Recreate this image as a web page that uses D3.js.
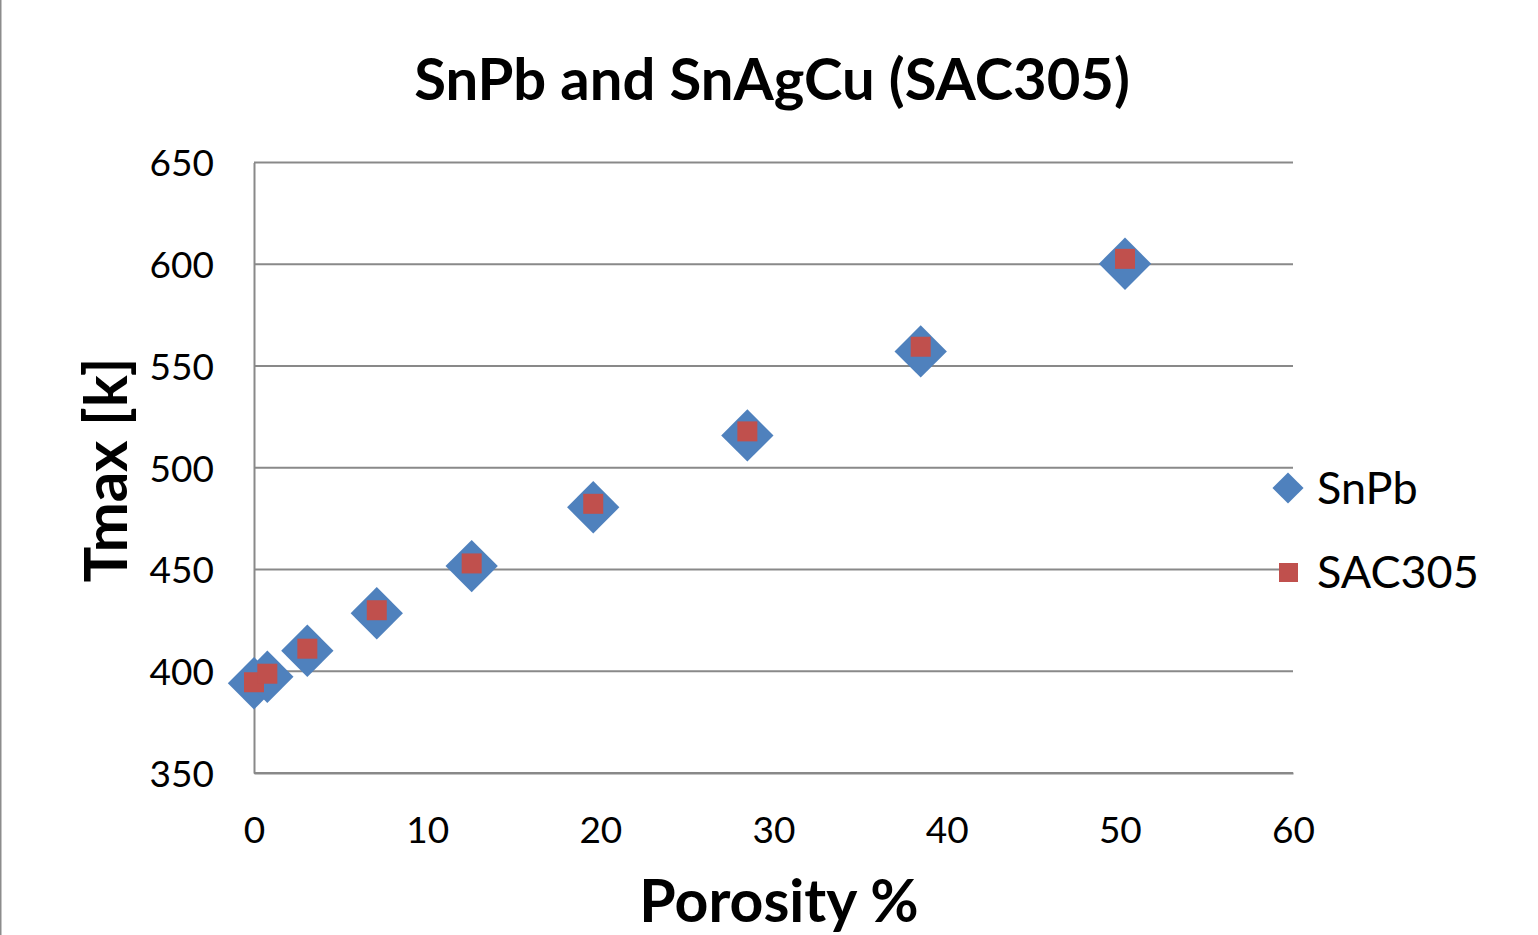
<!DOCTYPE html>
<html>
<head>
<meta charset="utf-8">
<script src="https://cdn.jsdelivr.net/npm/d3@7"></script>
<style>
  html, body { margin: 0; padding: 0; background: #fff; }
  svg { display: block; }
  text { font-family: Lato, "Open Sans", sans-serif; fill: #000; }
</style>
</head>
<body>
<svg id="chart" width="1538" height="935"></svg>
<script>
// Porosity (%) for each sample
const porosity = [0, 0.77, 3.08, 7.09, 12.57, 19.59, 28.49, 38.5, 50.3];
// Maximum temperature [K] for each solder
const snpbTmax = [394.1, 397.3, 410.1, 428.5, 451.7, 480.6, 515.9, 557.2, 600.3];
const sac305Tmax = [394.6, 398.8, 411.1, 430.0, 453.0, 482.3, 517.9, 559.5, 602.7];
const xTicks = [0, 10, 20, 30, 40, 50, 60];
const yTicks = [350, 400, 450, 500, 550, 600, 650];
const seriesNames = ["SnPb", "SAC305"];

const svg = d3.select("#chart");
const W = 1538, H = 935;
const plot = { left: 254, right: 1293, top: 162.6, bottom: 773 };

const x = d3.scaleLinear().domain([0, 60]).range([plot.left, plot.right]);
const y = d3.scaleLinear().domain([350, 650]).range([plot.bottom, plot.top]);

const gridColor = "#898989";

// frame edge on the left of the chart area
svg.append("line")
  .attr("x1", 0.75).attr("x2", 0.75).attr("y1", 0).attr("y2", H)
  .attr("stroke", "#8c8c8c").attr("stroke-width", 1.5);

// horizontal gridlines
svg.append("g")
  .selectAll("line")
  .data(yTicks)
  .join("line")
  .attr("x1", plot.left).attr("x2", plot.right)
  .attr("y1", d => y(d)).attr("y2", d => y(d))
  .attr("stroke", gridColor).attr("stroke-width", 2);

// y axis
const yAxis = svg.append("g")
  .attr("transform", `translate(${plot.left},0)`)
  .call(d3.axisLeft(y).tickValues(yTicks).tickSize(0).tickPadding(40));
yAxis.select(".domain").attr("stroke", gridColor).attr("stroke-width", 2);
yAxis.selectAll("text")
  .style("font-size", "37px")
  .style("font-family", "Lato, 'Open Sans', sans-serif")
  .attr("fill", "#000")
  .attr("dy", "0.36em");

// x axis
const xAxis = svg.append("g")
  .attr("transform", `translate(0,${plot.bottom})`)
  .call(d3.axisBottom(x).tickValues(xTicks).tickSize(0).tickPadding(40));
xAxis.select(".domain").attr("stroke", gridColor).attr("stroke-width", 2);
xAxis.selectAll("text")
  .style("font-size", "37px")
  .style("font-family", "Lato, 'Open Sans', sans-serif")
  .attr("fill", "#000")
  .attr("dy", "0.34em")
  .attr("y", 57);

// data series
const snpbColor = "#4F81BD", sacColor = "#C0504D";
const diamond = d3.symbol().type(d3.symbolSquare).size(37 * 37);

svg.append("g")
  .selectAll("path")
  .data(porosity.map((p, i) => [p, snpbTmax[i]]))
  .join("path")
  .attr("d", diamond)
  .attr("transform", d => `translate(${x(d[0])},${y(d[1])}) rotate(45)`)
  .attr("fill", snpbColor);

const sq = 20;
svg.append("g")
  .selectAll("rect")
  .data(porosity.map((p, i) => [p, sac305Tmax[i]]))
  .join("rect")
  .attr("x", d => x(d[0]) - sq / 2)
  .attr("y", d => y(d[1]) - sq / 2)
  .attr("width", sq).attr("height", sq)
  .attr("fill", sacColor);

// title
svg.append("text")
  .attr("x", 772).attr("y", 100)
  .attr("text-anchor", "middle")
  .style("font-size", "58px").style("font-weight", "bold")
  .text("SnPb and SnAgCu (SAC305)");

// axis titles
svg.append("text")
  .attr("transform", "translate(127,470) rotate(-90)")
  .attr("text-anchor", "middle")
  .style("font-size", "60px").style("font-weight", "bold")
  .text("Tmax [k]");

svg.append("text")
  .attr("x", 779).attr("y", 922)
  .attr("text-anchor", "middle")
  .style("font-size", "59px").style("font-weight", "bold")
  .text("Porosity %");

// legend
const legend = svg.append("g");
legend.append("path")
  .attr("d", d3.symbol().type(d3.symbolSquare).size(22 * 22))
  .attr("transform", "translate(1288,488) rotate(45)")
  .attr("fill", snpbColor);
legend.append("rect")
  .attr("x", 1279).attr("y", 563).attr("width", 19).attr("height", 19)
  .attr("fill", sacColor);
legend.selectAll("text.leg")
  .data(seriesNames)
  .join("text")
  .attr("class", "leg")
  .attr("x", 1317)
  .attr("y", (d, i) => 488 + i * 84)
  .attr("dy", "0.35em")
  .style("font-size", "45px")
  .text(d => d);
</script>
</body>
</html>
